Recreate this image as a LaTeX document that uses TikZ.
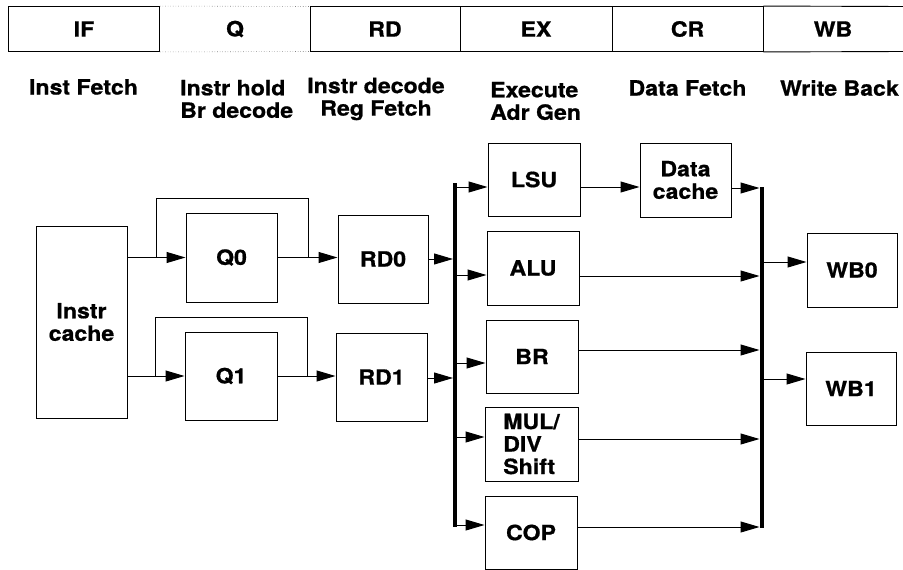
\documentclass[tikz,border=0pt]{standalone}
\usepackage{fontspec}
\setmainfont{TeX Gyre Heros}[FakeStretch=1.1, FakeBold=0.8]
\usetikzlibrary{arrows.meta}
\begin{document}
\begin{tikzpicture}[x=1pt,y=-1pt,
  font=\fontsize{21}{22.5}\selectfont\bfseries,
  box/.style={draw, line width=1pt, inner sep=0pt, align=center},
  cell/.style={draw, line width=0.9pt, inner sep=0pt, minimum height=45pt},
  arr/.style={line width=1pt, -{Triangle[length=19pt,width=11pt]}},
  ln/.style={line width=1pt},
  bus/.style={line width=4.5pt},
  lbl/.style={inner sep=0pt}]
\useasboundingbox (0,0) rectangle (903,570);

% ---- top bar ----
\node[cell, minimum width=151pt] (cIF) at (84,29) {IF};
\node[lbl] (cQ) at (235,29) {Q};
\draw[line width=0.6pt, dotted, gray] (cIF.north east) -- (310,6.5);
\draw[line width=0.6pt, dotted, gray] (cIF.south east) -- (310,51.5);
\node[cell, minimum width=150pt] (cRD) at (385,29) {RD};
\node[cell, minimum width=152pt] (cEX) at (536,29) {EX};
\node[cell, minimum width=151pt] (cCR) at (687.5,29) {CR};
\node[lbl] (cWB) at (833,29) {WB};
\draw[line width=0.9pt] (cCR.north east) -- (904,6.5);
\draw[line width=0.9pt] (cCR.south east) -- (904,51.5);

% ---- stage labels ----
\node[lbl] (sIF) at (83.5,87) {Inst Fetch};
\node[lbl, anchor=west, align=left] (sQ) at (180,99) {Instr hold\\Br decode};
\node[lbl, align=center] (sRD) at (376,99) {Instr decode\\Reg Fetch};
\node[lbl, anchor=west, align=left] (sEX) at (490,101) {Execute\\Adr Gen};
\node[lbl] (sCR) at (687.5,88) {Data Fetch};
\node[lbl] (sWB) at (839.5,88) {Write Back};

% ---- boxes ----
\node[box, minimum width=91pt, minimum height=192pt] (ic) at (81.5,322) {Instr\\cache};
\node[box, minimum width=91pt, minimum height=89pt] (q0) at (231.5,257.5) {Q0};
\node[box, minimum width=92pt, minimum height=88pt] (q1) at (231,376) {Q1};
\node[box, minimum width=90pt, minimum height=88pt] (rd0) at (383,259) {RD0};
\node[box, minimum width=91pt, minimum height=88pt] (rd1) at (381.5,377) {RD1};
\node[box, minimum width=92pt, minimum height=73pt] (lsu) at (534,179.5) {LSU};
\node[box, minimum width=92pt, minimum height=74pt] (alu) at (533,268) {ALU};
\node[box, minimum width=92pt, minimum height=73pt] (br) at (532,356.5) {BR};
\node[box, minimum width=93pt, minimum height=74pt, align=left] (mul) at (531.5,444) {MUL/\\DIV\\Shift};
\node[box, minimum width=92pt, minimum height=73pt] (cop) at (531,532.5) {COP};
\node[box, minimum width=91pt, minimum height=74pt] (dc) at (685.5,180) {Data\\cache};
\node[box, minimum width=90pt, minimum height=74pt] (wb0) at (852,270) {WB0};
\node[box, minimum width=90pt, minimum height=73pt] (wb1) at (851,388.5) {WB1};

% ---- IF -> Q -> RD ----
\coordinate (s0) at (156,257.5);
\coordinate (j0) at (308,257.5);
\coordinate (s1) at (155,375.5);
\coordinate (j1) at (307,375.5);
\draw[arr] (ic.east |- q0.west) -- (q0.west);
\draw[arr] (ic.east |- q1.west) -- (q1.west);
\draw[ln] (s0) -- ++(0,-59.5) -| (j0);
\draw[ln] (s1) -- ++(0,-58.5) -| (j1);
\draw[arr] (q0.east) -- (rd0.west |- q0.east);
\draw[arr] (q1.east) -- (rd1.west |- q1.east);

% ---- bus 1 ----
\coordinate (b1t) at (455,183);
\coordinate (b1b) at (455,527);
\draw[bus] (b1t) -- (b1b);
\coordinate (x0) at (453,259);
\coordinate (x1) at (453,378);
\draw[arr] (rd0.east |- x0) -- (x0);
\draw[arr] (rd1.east |- x1) -- (x1);
\coordinate (o1) at (455,187);
\coordinate (o2) at (455,275);
\coordinate (o3) at (455,363);
\coordinate (o4) at (455,437);
\coordinate (o5) at (455,525);
\draw[arr] (o1) -- (lsu.west |- o1);
\draw[arr] (o2) -- (alu.west |- o2);
\draw[arr] (o3) -- (br.west |- o3);
\draw[arr] (o4) -- (mul.west |- o4);
\draw[arr] (o5) -- (cop.west |- o5);

% ---- LSU -> data cache ----
\draw[arr] (lsu.east |- o1) -- (dc.west |- o1);

% ---- bus 2 ----
\coordinate (b2t) at (762,187);
\coordinate (b2b) at (762,528);
\draw[bus] (b2t) -- (b2b);
\coordinate (i1) at (759.5,188);
\coordinate (i2) at (759.5,276);
\coordinate (i3) at (759.5,350);
\coordinate (i4) at (759.5,439);
\coordinate (i5) at (759.5,527);
\draw[arr] (dc.east |- i1) -- (i1);
\draw[arr] (alu.east |- i2) -- (i2);
\draw[arr] (br.east |- i3) -- (i3);
\draw[arr] (mul.east |- i4) -- (i4);
\draw[arr] (cop.east |- i5) -- (i5);
\coordinate (w0) at (762,262);
\coordinate (w1) at (762,379);
\draw[arr] (w0) -- (wb0.west |- w0);
\draw[arr] (w1) -- (wb1.west |- w1);
\end{tikzpicture}
\end{document}
